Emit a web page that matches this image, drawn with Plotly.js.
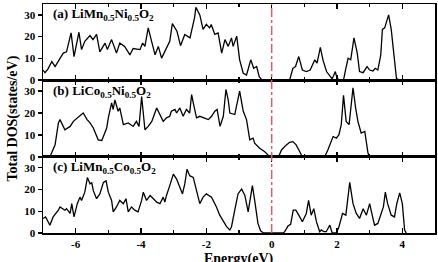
<!DOCTYPE html>
<html><head><meta charset="utf-8">
<script src="https://cdn.plot.ly/plotly-3.0.1.min.js"></script>
<style>html,body{margin:0;padding:0;background:#fff}#c{width:438px;height:262px}</style>
</head><body><div id="c"></div>
<script>
// Panel (a) LiMn0.5Ni0.5O2
const energyA = [-7,-6.94,-6.85,-6.73,-6.63,-6.5,-6.38,-6.28,-6.14,-6.05,-5.9,-5.82,-5.72,-5.56,-5.47,-5.36,-5.26,-5.1,-5.03,-4.9,-4.75,-4.65,-4.5,-4.34,-4.24,-4.03,-3.95,-3.88,-3.78,-3.57,-3.47,-3.37,-3.12,-3.04,-2.9,-2.79,-2.66,-2.5,-2.36,-2.32,-2.2,-2.1,-2.0,-1.9,-1.85,-1.74,-1.64,-1.53,-1.43,-1.33,-1.23,-1.18,-1.07,-0.98,-0.87,-0.77,-0.64,-0.55,-0.46,-0.38,-0.31,-0.2,0.55,0.65,0.73,0.83,0.94,1.06,1.18,1.32,1.39,1.49,1.57,1.68,1.78,1.85,1.95,2.0,2.08,2.2,2.26,2.34,2.42,2.52,2.62,2.69,2.8,2.92,3.0,3.1,3.17,3.25,3.34,3.39,3.46,3.58,3.66,3.74,3.82,3.9,4.0];
const dosA = [4.6,3.4,5,8.5,6.2,9.5,12.4,13,21.7,10.8,22,14,17.8,20.5,18.6,21,13,17,14,18.6,12.4,17,15.5,11.6,14.5,14,17,15.5,24,11.6,15.5,10.1,17.8,26,22.5,15.8,21,19.4,28.7,33.5,30,23.3,25.6,24,25.6,21,21.7,12.4,18.6,15.5,19.4,15.5,20.2,9.3,3.1,2.3,9.3,5.4,6.2,1.5,0.3,0,0,5.4,6.2,10.8,4.6,3.9,4.6,9.3,7.8,15,9.3,3.9,1.9,0.5,3.9,0.8,0,0,4.6,10,9.3,19.4,12.4,3.9,3.4,6.2,4.6,4.2,5.4,4.6,11.6,23.3,24,30,23.3,10.8,0.8,0,0];

// Panel (b) LiCo0.5Ni0.5O2
const energyB = [-7,-6.79,-6.63,-6.53,-6.48,-6.33,-6.17,-6.07,-5.77,-5.65,-5.56,-5.46,-5.31,-5.2,-5.05,-5.0,-4.9,-4.85,-4.8,-4.7,-4.65,-4.54,-4.39,-4.24,-4.14,-4.06,-3.98,-3.88,-3.78,-3.67,-3.52,-3.42,-3.32,-3.22,-3.12,-3.07,-2.96,-2.91,-2.81,-2.71,-2.61,-2.51,-2.45,-2.4,-2.3,-2.2,-2.1,-1.94,-1.84,-1.74,-1.67,-1.58,-1.48,-1.4,-1.33,-1.28,-1.13,-1.07,-0.98,-0.87,-0.77,-0.67,-0.57,-0.52,-0.37,-0.21,-0.06,0.21,0.3,0.45,0.55,0.65,0.75,0.86,0.94,1.62,1.72,1.88,1.98,2.06,2.13,2.2,2.28,2.37,2.49,2.57,2.64,2.74,2.85,2.95,3.0,4.0];
const dosB = [0,0,5.5,15.4,17,12.4,13.9,16.2,20,17,15.5,13.2,7.8,7.5,13.2,17.8,24.6,21.6,26,20.8,22.3,14.7,15.5,13.9,16.2,13.9,27.5,12.4,13.9,16.2,22.3,19.3,16.2,17.8,18.5,20.8,21.6,20,22.3,18.5,21.6,20,28.4,24.6,17.8,18.5,17.8,17,18.5,20.8,21.6,13.9,18.5,30.7,26,20,19.3,23,30,20.8,17,7.8,8.6,6.3,4,2.4,0.1,0,3.2,5.5,6.7,7,5.5,2.4,0,0,3.2,9.3,8.6,10.1,14.7,28,16.2,14.7,31.5,22.3,16.2,10.9,11.6,1.7,0,0];

// Panel (c) LiMn0.5Co0.5O2
const energyC = [-7,-6.92,-6.79,-6.69,-6.53,-6.48,-6.33,-6.28,-6.17,-6.12,-6.05,-5.95,-5.87,-5.82,-5.72,-5.64,-5.56,-5.51,-5.46,-5.36,-5.26,-5.15,-5.07,-5.0,-4.9,-4.85,-4.75,-4.65,-4.54,-4.46,-4.39,-4.29,-4.19,-4.09,-3.98,-3.93,-3.83,-3.72,-3.62,-3.52,-3.42,-3.32,-3.27,-3.22,-3.12,-3.01,-2.91,-2.81,-2.73,-2.66,-2.59,-2.51,-2.4,-2.3,-2.2,-2.1,-2.0,-1.84,-1.69,-1.59,-1.48,-1.38,-1.28,-1.23,-1.13,-1.03,-0.92,-0.82,-0.72,-0.62,-0.59,-0.52,-0.42,-0.34,-0.25,0.35,0.4,0.5,0.58,0.66,0.74,0.86,0.94,1.06,1.13,1.21,1.29,1.37,1.47,1.52,1.6,1.67,1.78,1.85,1.98,2.06,2.17,2.27,2.39,2.49,2.59,2.69,2.8,2.9,3.0,3.1,3.15,3.25,3.35,3.42,3.48,3.55,3.66,3.76,3.83,3.92,4.0,4.07,4.12];
const dosC = [6.7,7.4,3.6,7.4,10.5,12,10.5,11.2,9,13.5,7.4,13.5,16.5,15,18.8,25.6,22.6,23.3,19.5,15.8,18,23.3,24,18.8,15,9.7,12,15,13.5,15.8,9.7,12,10.5,9.7,15,18.8,15,17.3,15.8,14.2,13.5,16.5,14.2,17.3,21.8,27.1,24.8,21,18,22.6,29.4,26.4,25.6,19.5,13.5,16.5,18,16.5,12,8.2,5.2,2.9,1.4,2.9,10.5,18,20.3,17.3,9.7,19.5,21.8,15,4.4,1,0,0,0.6,3.2,4,10.5,10.5,7.4,5.2,9,15,8.2,11.2,5.2,0.6,1.4,0.6,0.6,3.6,0.1,0,2.9,9,8.2,23.3,13.5,9,6.7,11.2,8.2,13.5,6.7,3.6,4.4,9,12,18.8,13.5,8.2,7.4,13.5,18.5,13.5,1.4,0];

const panelLabels = ["(a) LiMn<sub>0.5</sub>Ni<sub>0.5</sub>O<sub>2</sub>","(b) LiCo<sub>0.5</sub>Ni<sub>0.5</sub>O<sub>2</sub>","(c) LiMn<sub>0.5</sub>Co<sub>0.5</sub>O<sub>2</sub>"];
const xTickVals = [-6,-4,-2,0,2,4];
const xTickText = ["-6","-4","-2","0","2","4"];
const yTickVals = [0,10,20,30];
const xTitle = "Energy(eV)";
const yTitle = "Total DOS(states/eV)";

const F = "Liberation Serif, Times New Roman, serif";
const line = {color:'#000', width:1.3};
const traces = [
  {x:energyA, y:dosA, xaxis:'x', yaxis:'y', type:'scatter', mode:'lines', line:line},
  {x:energyB, y:dosB, xaxis:'x2', yaxis:'y2', type:'scatter', mode:'lines', line:line},
  {x:energyC, y:dosC, xaxis:'x3', yaxis:'y3', type:'scatter', mode:'lines', line:line}
];
function xa(anchor, labels){
  return {anchor:anchor, range:[-7,5], tickvals:xTickVals, ticktext:xTickText, ticks:'inside', ticklen:5, tickwidth:1.3, tickcolor:'#000',
    minor:{tickvals:[-7,-5,-3,-1,1,3,5], ticks:'inside', ticklen:3, tickwidth:1.2, tickcolor:'#000'},
    showline:true, linewidth:1.5, linecolor:'#000', mirror:'ticks', showgrid:false, zeroline:false,
    showticklabels:labels, tickfont:{family:F, size:11, color:'#000', weight:'bold'}};
}
function ya(dom){
  return {domain:dom, range:[0,35], tickvals:yTickVals, ticks:'outside', ticklen:4, tickwidth:1.3, tickcolor:'#000',
    showline:true, linewidth:1.5, linecolor:'#000', mirror:true, showgrid:false, zeroline:false,
    tickfont:{family:F, size:11, color:'#000', weight:'bold'}};
}
const ann = (txt, yr) => ({text:'<b>'+txt+'</b>', xref:'x', yref:yr, x:-6.75, y:30, xanchor:'left', yanchor:'middle', showarrow:false, font:{family:F, size:13, color:'#000'}});
const layout = {
  width:438, height:262, margin:{l:43, r:3, t:4, b:29}, showlegend:false,
  paper_bgcolor:'#fff', plot_bgcolor:'#fff',
  xaxis:xa('y', false), xaxis2:xa('y2', false), xaxis3:xa('y3', true),
  yaxis:ya([0.668,1]), yaxis2:ya([0.332,0.668]), yaxis3:ya([0,0.332]),
  shapes:[{type:'line', xref:'x', yref:'paper', x0:0, x1:0, y0:0, y1:1, line:{color:'rgb(228,90,95)', width:1.5, dash:'dashdot'}}],
  annotations:[
    ann(panelLabels[0],'y'), ann(panelLabels[1],'y2'), ann(panelLabels[2],'y3'),
    {text:'<b>'+xTitle+'</b>', xref:'paper', yref:'paper', x:0.5, y:-0.115, xanchor:'center', yanchor:'middle', showarrow:false, font:{family:F, size:14, color:'#000'}},
    {text:'<b>'+yTitle+'</b>', xref:'paper', yref:'paper', x:-0.079, y:0.5, xanchor:'center', yanchor:'middle', textangle:-90, showarrow:false, font:{family:F, size:14, color:'#000'}}
  ]
};
Plotly.newPlot('c', traces, layout, {staticPlot:true, displayModeBar:false});
</script></body></html>
